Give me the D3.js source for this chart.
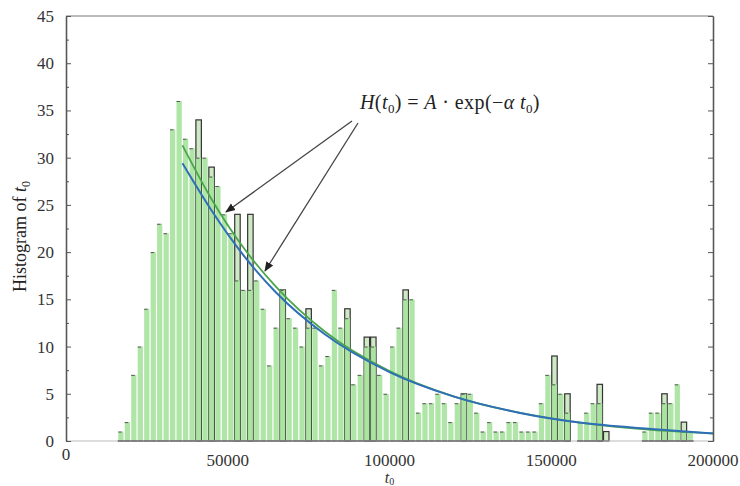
<!DOCTYPE html>
<html>
<head>
<meta charset="utf-8">
<script src="https://cdn.jsdelivr.net/npm/d3@7"></script>
<style>
  body { margin: 0; background: #fff; }
  svg { display: block; }
  text { font-family: "Liberation Serif", "DejaVu Serif", serif; }
</style>
</head>
<body>
<div class="canvas"></div>
<script>
// histogram of t0, bins of 2000 starting at 0
const binWidth = 2000;
const counts = [
  0, 0, 0, 0, 0, 0, 0, 0, 1, 2,
  7, 10, 14, 20, 23, 22, 33, 36, 32, 31,
  30, 30, 28, 27, 24, 22, 17, 16, 16, 17,
  14, 8, 12, 16, 13, 12, 10, 12, 12, 8,
  9, 16, 12, 13, 6, 7, 10, 10, 7, 5,
  10, 12, 15, 15, 3, 4, 4, 5, 4, 2,
  4, 5, 5, 3, 1, 2, 1, 1, 2, 2,
  1, 1, 1, 4, 7, 6, 5, 3, 0, 2,
  3, 4, 4, 0, 0, 0, 0, 0, 0, 1,
  3, 3, 4, 4, 6, 1, 1, 0, 0, 0
];
// second (outlined) histogram where it stands above the green one
const outlineBins = [20, 22, 26, 28, 33, 37, 43, 46, 47, 52, 61, 75, 77, 82, 83, 92, 95];
const outlineCounts = [34, 29, 24, 24, 16, 14, 14, 11, 11, 16, 5, 9, 5, 6, 1, 5, 2];

// fitted curves H(t0) = A exp(-alpha t0)
const fitT = [36000, 45000, 55000, 65000, 80000, 100000, 120000, 140000, 160000, 180000, 200000];
const fitGreen = [31.3, 25.6, 20.4, 16.3, 11.6, 7.4, 4.7, 3.0, 1.9, 1.2, 0.8];
const fitBlue = [29.4, 24.4, 19.6, 15.7, 11.3, 7.3, 4.7, 3.0, 1.9, 1.3, 0.8];

const xTicks = [0, 50000, 100000, 150000, 200000];
const yTicks = [0, 5, 10, 15, 20, 25, 30, 35, 40, 45];

const dims = {width: 740, height: 486, left: 66, right: 713, top: 16, bottom: 441};

const svg = d3.select(".canvas")
    .append("svg")
    .attr("width", dims.width)
    .attr("height", dims.height);

const x = d3.scaleLinear().domain([0, 200000]).range([dims.left, dims.right]);
const y = d3.scaleLinear().domain([0, 45]).range([dims.bottom, dims.top]);

const bins = counts.map((c, i) => ({x0: i * binWidth, x1: (i + 1) * binWidth, n: c}));
const outline = outlineBins.map((b, i) => ({x0: b * binWidth, x1: (b + 1) * binWidth, n: outlineCounts[i]}));

// outlined bars go behind the green ones
svg.append("g")
  .selectAll("rect")
  .data(outline)
  .join("rect")
    .attr("x", d => x(d.x0) + 0.5)
    .attr("y", d => y(d.n))
    .attr("width", d => x(d.x1) - x(d.x0) - 1)
    .attr("height", d => y(0) - y(d.n))
    .attr("fill", "#cfe9c6")
    .attr("stroke", "#333")
    .attr("stroke-width", 1.2);

const filled = bins.filter(d => d.n > 0);

svg.append("g")
  .selectAll("rect")
  .data(filled)
  .join("rect")
    .attr("x", d => x(d.x0) + 0.5)
    .attr("y", d => y(d.n))
    .attr("width", d => x(d.x1) - x(d.x0) - 1.2)
    .attr("height", d => y(0) - y(d.n))
    .attr("fill", "#a6e29c")
    .attr("fill-opacity", 0.9);

// dark caps on top of the bars
svg.append("g")
  .selectAll("line")
  .data(filled)
  .join("line")
    .attr("x1", d => x(d.x0) + 0.5)
    .attr("x2", d => x(d.x0) + 4)
    .attr("y1", d => y(d.n) + 0.5)
    .attr("y2", d => y(d.n) + 0.5)
    .attr("stroke", "#555")
    .attr("stroke-width", 1);

// base edges under each bar
svg.append("g")
  .selectAll("line")
  .data(filled)
  .join("line")
    .attr("x1", d => x(d.x0))
    .attr("x2", d => x(d.x1))
    .attr("y1", y(0))
    .attr("y2", y(0))
    .attr("stroke", "#222")
    .attr("stroke-width", 1.6);

// fit curves
const line = (vals) => d3.line()
    .x((d, i) => x(fitT[i]))
    .y(d => y(d))
    .curve(d3.curveMonotoneX)(vals);

svg.append("path")
    .attr("d", line(fitGreen))
    .attr("fill", "none")
    .attr("stroke", "#4aa64a")
    .attr("stroke-width", 1.8);

svg.append("path")
    .attr("d", line(fitBlue))
    .attr("fill", "none")
    .attr("stroke", "#2f6fb8")
    .attr("stroke-width", 2);

// frame
svg.append("line")
    .attr("x1", dims.left).attr("x2", dims.right)
    .attr("y1", dims.top).attr("y2", dims.top)
    .attr("stroke", "#777").attr("stroke-width", 1);
svg.append("line")
    .attr("x1", dims.left).attr("x2", dims.right)
    .attr("y1", dims.bottom).attr("y2", dims.bottom)
    .attr("stroke", "#bbb").attr("stroke-width", 1);

const minorY = d3.range(2.5, 45, 5);

const yLeft = svg.append("g")
    .attr("transform", `translate(${dims.left},0)`)
    .call(d3.axisLeft(y).tickValues(yTicks).tickSize(-5).tickPadding(12).tickSizeOuter(0));
svg.append("g")
    .attr("transform", `translate(${dims.left},0)`)
    .call(d3.axisLeft(y).tickValues(minorY).tickSize(-3).tickFormat("").tickSizeOuter(0));
svg.append("g")
    .attr("transform", `translate(${dims.right},0)`)
    .call(d3.axisRight(y).tickValues(yTicks).tickSize(-5).tickFormat("").tickSizeOuter(0));
svg.append("g")
    .attr("transform", `translate(${dims.right},0)`)
    .call(d3.axisRight(y).tickValues(minorY).tickSize(-3).tickFormat("").tickSizeOuter(0));

svg.selectAll(".domain").attr("stroke", "#555").attr("stroke-width", 1.3);
svg.selectAll(".tick line").attr("stroke", "#555");
yLeft.selectAll("text")
    .style("font-family", "Liberation Serif, serif")
    .style("font-size", "17px")
    .attr("fill", "#333");

// x tick labels
svg.append("g")
  .selectAll("text")
  .data(xTicks)
  .join("text")
    .attr("x", d => x(d))
    .attr("y", d => d === 0 ? 460 : 466)
    .attr("text-anchor", "middle")
    .attr("font-size", 17)
    .attr("fill", "#333")
    .text(d => d);

// axis titles
const xt = svg.append("text")
    .attr("x", x(100000))
    .attr("y", 483)
    .attr("text-anchor", "middle")
    .attr("font-size", 16)
    .attr("fill", "#333");
xt.append("tspan").attr("font-style", "italic").text("t");
xt.append("tspan").attr("font-size", 10).attr("dy", 2).text("0");

const yt = svg.append("text")
    .attr("transform", `translate(26,${(dims.top + dims.bottom) / 2 + 8}) rotate(-90)`)
    .attr("text-anchor", "middle")
    .attr("font-size", 18)
    .attr("fill", "#222");
yt.append("tspan").text("Histogram of ");
yt.append("tspan").attr("font-style", "italic").text("t");
yt.append("tspan").attr("font-size", 12).attr("dy", 4).text("0");

// annotation
const ann = svg.append("text")
    .attr("x", 360)
    .attr("y", 109)
    .attr("font-size", 20)
    .attr("letter-spacing", 0.4)
    .attr("fill", "#222");
ann.append("tspan").attr("font-style", "italic").text("H");
ann.append("tspan").text("(");
ann.append("tspan").attr("font-style", "italic").text("t");
ann.append("tspan").attr("font-size", 13).attr("dy", 4).text("0");
ann.append("tspan").attr("dy", -4).text(") = ");
ann.append("tspan").attr("font-style", "italic").text("A");
ann.append("tspan").text(" · exp(−");
ann.append("tspan").attr("font-style", "italic").text("α t");
ann.append("tspan").attr("font-size", 13).attr("dy", 4).text("0");
ann.append("tspan").attr("dy", -4).text(")");

svg.append("defs").append("marker")
    .attr("id", "head")
    .attr("viewBox", "0 0 10 10")
    .attr("refX", 9).attr("refY", 5)
    .attr("markerWidth", 10).attr("markerHeight", 10)
    .attr("markerUnits", "userSpaceOnUse")
    .attr("orient", "auto")
  .append("path")
    .attr("d", "M0,1 L10,5 L0,9 Z")
    .attr("fill", "#222");

const arrows = [[352, 121, 226, 212], [358, 123, 265, 271]];
svg.append("g")
  .selectAll("line")
  .data(arrows)
  .join("line")
    .attr("x1", d => d[0]).attr("y1", d => d[1])
    .attr("x2", d => d[2]).attr("y2", d => d[3])
    .attr("stroke", "#444")
    .attr("stroke-width", 1.3)
    .attr("marker-end", "url(#head)");
</script>
</body>
</html>
